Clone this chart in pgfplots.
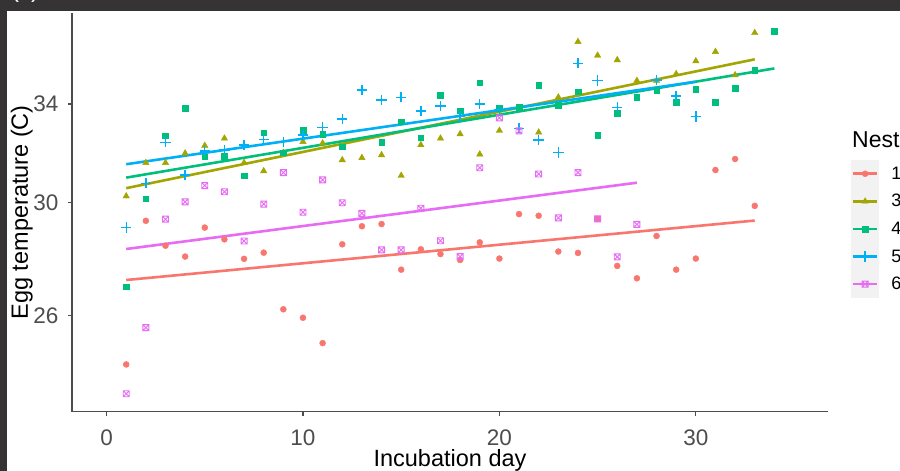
\documentclass[border=0pt]{standalone}
\usepackage{fontspec}
\setmainfont{Liberation Sans}
\usepackage{pgfplots}
\pgfplotsset{compat=1.18}
\usetikzlibrary{plotmarks}
\definecolor{nestA}{HTML}{F8766D}
\definecolor{nestB}{HTML}{A3A500}
\definecolor{nestC}{HTML}{00BF7D}
\definecolor{nestD}{HTML}{00B0F6}
\definecolor{nestE}{HTML}{E76BF3}
\definecolor{keybg}{HTML}{F2F2F2}
\definecolor{framegray}{HTML}{353333}
\definecolor{ticktext}{HTML}{4D4D4D}

% square with a cross (ggplot shape 7)
\pgfdeclareplotmark{boxx}{%
  \pgfpathrectangle{\pgfpoint{-\pgfplotmarksize}{-\pgfplotmarksize}}{\pgfpoint{2\pgfplotmarksize}{2\pgfplotmarksize}}%
  \pgfpathmoveto{\pgfpoint{-\pgfplotmarksize}{-\pgfplotmarksize}}%
  \pgfpathlineto{\pgfpoint{\pgfplotmarksize}{\pgfplotmarksize}}%
  \pgfpathmoveto{\pgfpoint{-\pgfplotmarksize}{\pgfplotmarksize}}%
  \pgfpathlineto{\pgfpoint{\pgfplotmarksize}{-\pgfplotmarksize}}%
  \pgfusepathqstroke}

\pgfplotsset{
  keyimg/.style={legend image code/.code={
    \fill[keybg,draw=none] (0bp,-13.8bp) rectangle (28.3bp,13.8bp);
    \draw[solid,line width=2.6bp] (2bp,0bp) -- (26.3bp,0bp);
    \draw[solid] plot coordinates {(14.15bp,0bp)};
  }},
  fitline/.style={line width=2.6bp, forget plot, no marks}
}

\begin{document}
\begin{tikzpicture}
\useasboundingbox (0bp,0bp) rectangle (900bp,471bp);
\fill[framegray] (0bp,0bp) rectangle (900bp,471bp);
\fill[white] (7bp,0bp) rectangle (900bp,460bp);
\node[anchor=base west, text=white, font=\fontsize{24bp}{28bp}\selectfont, inner sep=0pt] at (11bp,473bp) {(c)};

\begin{axis}[
  at={(72bp,59.3bp)}, anchor=south west,
  scale only axis, width=756bp, height=398.7bp,
  xmin=-1.76, xmax=36.73,
  ymode=log, ymin=23.02, ymax=38.16,
  axis lines=left, axis line style={-, line width=1.2bp, color=black!70},
  tick align=outside, major tick length=4bp,
  tick style={line width=1.1bp, color=black!70},
  xtick={0,10,20,30}, xticklabels={0,10,20,30},
  ytick={26,30,34}, yticklabels={26,30,34}, yminorticks=false,
  xticklabel style={font=\fontsize{22.5bp}{26bp}\selectfont, text=ticktext, inner sep=0pt, yshift=-14bp},
  yticklabel style={font=\fontsize{22.5bp}{26bp}\selectfont, text=ticktext, inner sep=0pt, anchor=east, xshift=-9.3bp},
  xlabel={Incubation day},
  ylabel={Egg temperature (C)},
  xlabel style={at={(axis description cs:0.5,-0.1225)}, anchor=center, inner sep=0pt, font=\fontsize{23.5bp}{27bp}\selectfont},
  ylabel style={at={(axis description cs:-0.0665,0.5)}, anchor=center, inner sep=0pt, font=\fontsize{23.5bp}{27bp}\selectfont},
  legend style={at={(1.0304,0.6313)}, anchor=north west, draw=none, fill=none,
    inner sep=0pt, outer sep=0pt, row sep=0pt, column sep=12bp,
    nodes={inner sep=0pt, anchor=west},
    font=\fontsize{18bp}{21bp}\selectfont},
  legend cell align=left,
]
% points
\addplot[only marks, color=nestA, mark=*, mark size=3bp, keyimg] table[row sep=\\]{
x y\\
1 24.44\\ 2 29.32\\ 3 28.41\\ 4 28.02\\ 5 29.07\\ 6 28.64\\ 7 27.94\\ 8 28.16\\
9 26.21\\ 10 25.93\\ 11 25.11\\ 12 28.46\\ 13 29.12\\ 14 29.20\\ 15 27.56\\ 16 28.28\\
17 28.11\\ 18 27.90\\ 19 28.53\\ 20 27.95\\ 21 29.57\\ 22 29.51\\ 23 28.20\\ 24 28.15\\
25 29.39\\ 26 27.69\\ 27 27.26\\ 28 28.76\\ 29 27.56\\ 30 27.95\\ 31 31.27\\ 32 31.71\\
33 29.88\\
};
\addlegendentry{1}
\addplot[only marks, color=nestB, mark=triangle*, mark size=3.7bp, keyimg] table[row sep=\\]{
x y\\
1 30.25\\ 2 31.56\\ 3 31.56\\ 4 31.94\\ 5 32.25\\ 6 32.55\\ 7 31.56\\ 8 31.23\\
9 31.97\\ 10 32.41\\ 11 32.35\\ 12 31.67\\ 13 31.76\\ 14 31.87\\ 15 31.05\\ 16 32.28\\
17 32.55\\ 18 32.73\\ 19 31.90\\ 20 32.87\\ 22 32.80\\ 23 34.29\\ 24 36.79\\ 25 36.16\\
26 35.95\\ 27 35.02\\ 28 35.02\\ 29 35.32\\ 30 35.90\\ 31 36.33\\ 32 35.27\\ 33 37.21\\
};
\addlegendentry{3}
\addplot[only marks, color=nestC, mark=square*, mark size=2.8bp, keyimg] table[row sep=\\]{
x y\\
1 26.97\\ 2 30.16\\ 3 32.66\\ 4 33.82\\ 5 31.80\\ 6 31.83\\ 7 31.05\\ 8 32.79\\
9 31.97\\ 10 32.90\\ 11 32.72\\ 12 32.21\\ 14 32.39\\ 15 33.25\\ 16 32.58\\ 17 34.39\\
18 33.71\\ 19 34.93\\ 20 33.82\\ 21 33.86\\ 22 34.82\\ 23 33.96\\ 24 34.53\\ 25 32.69\\
26 33.60\\ 27 34.29\\ 28 34.61\\ 29 34.07\\ 30 34.65\\ 31 34.07\\ 32 34.68\\ 33 35.50\\
34 37.28\\
};
\addlegendentry{4}
\addplot[only marks, color=nestD, mark=+, mark size=5.2bp, mark options={line width=1.4bp}, keyimg] table[row sep=\\]{
x y\\
1 29.07\\ 2 30.75\\ 3 32.39\\ 4 31.07\\ 5 32.03\\ 6 32.07\\ 7 32.28\\ 8 32.51\\
9 32.41\\ 10 32.69\\ 11 33.01\\ 12 33.36\\ 13 34.61\\ 14 34.17\\ 15 34.29\\ 16 33.70\\
17 33.91\\ 18 33.46\\ 19 34.00\\ 20 33.74\\ 21 32.97\\ 22 32.48\\ 23 31.97\\ 24 35.80\\
25 35.02\\ 26 33.86\\ 28 35.05\\ 29 34.35\\ 30 33.46\\
};
\addlegendentry{5}
\addplot[only marks, color=nestE, mark=boxx, mark size=3bp, mark options={line width=0.9bp}, keyimg] table[row sep=\\]{
x y\\
1 23.55\\ 2 25.61\\ 3 29.38\\ 4 30.03\\ 5 30.66\\ 6 30.42\\ 7 28.58\\ 8 29.95\\
9 31.17\\ 10 29.64\\ 11 30.88\\ 12 30.00\\ 13 29.60\\ 14 28.26\\ 15 28.26\\ 16 29.79\\
17 28.59\\ 18 28.02\\ 19 31.36\\ 20 33.41\\ 21 32.86\\ 22 31.11\\ 23 29.43\\ 24 31.17\\
25 29.39\\ 26 28.01\\ 27 29.19\\
};
\addlegendentry{6}
% fitted lines
\addplot[fitline, color=nestA] coordinates {(1,27.20) (33,29.33)};
\addplot[fitline, color=nestB] coordinates {(1,30.56) (33,35.98)};
\addplot[fitline, color=nestC] coordinates {(1,30.97) (34,35.57)};
\addplot[fitline, color=nestD] coordinates {(1,31.50) (30,34.97)};
\addplot[fitline, color=nestE] coordinates {(1,28.29) (27,30.77)};
\end{axis}

\node[anchor=base west, font=\fontsize{23bp}{27bp}\selectfont, inner sep=0pt] at (852bp,323.7bp) {Nest};
\end{tikzpicture}
\end{document}
